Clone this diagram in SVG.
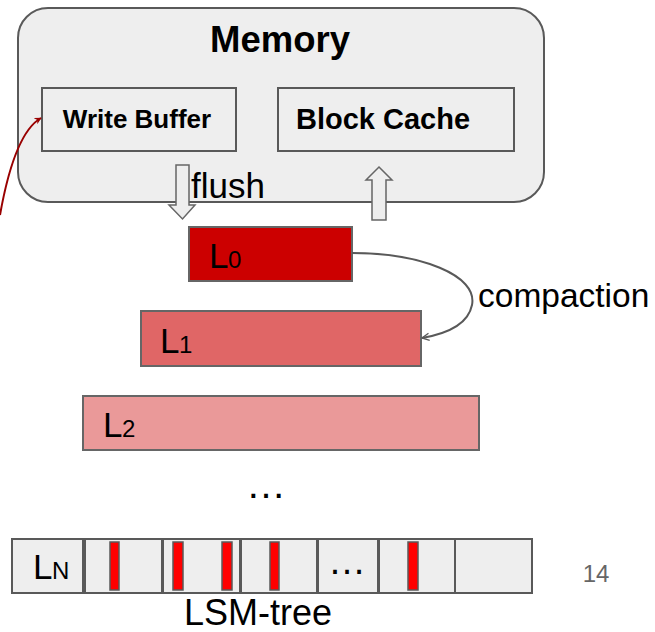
<svg xmlns="http://www.w3.org/2000/svg" width="655" height="632" viewBox="0 0 655 632">
  <style>
    text { font-family: "Liberation Sans", Arial, sans-serif; fill: #000; }
    .box { fill: #eeeeee; stroke: #595959; stroke-width: 2; }
    .lvl { stroke: #666666; stroke-width: 2; }
    .bar { fill: #ff0000; stroke: #595959; stroke-width: 1.5; }
    .hollow { fill: #eeeeee; stroke: #666666; stroke-width: 1.5; }
    .lbl { font-size: 35px; }
    .sub { font-size: 24px; }
  </style>
  <defs>
    <marker id="redHead" viewBox="0 0 10 10" refX="9" refY="5" markerWidth="7" markerHeight="7" orient="auto" markerUnits="userSpaceOnUse">
      <path d="M0,0 L10,5 L0,10 L3,5 z" fill="#990000"/>
    </marker>
    <marker id="greyHead" viewBox="0 0 10 10" refX="9" refY="5" markerWidth="9" markerHeight="9" orient="auto" markerUnits="userSpaceOnUse">
      <path d="M1,1 L9,5 L1,9" fill="none" stroke="#595959" stroke-width="1.5"/>
    </marker>
  </defs>

  <!-- memory area -->
  <g id="memory">
    <rect class="box" x="18" y="8" width="526" height="194" rx="30" ry="30"/>
    <text x="280" y="52" text-anchor="middle" font-size="36.5" font-weight="bold">Memory</text>
  </g>
  <g id="write-buffer">
    <rect class="box" x="42" y="88" width="194" height="63"/>
    <text x="137" y="128" text-anchor="middle" font-size="26" font-weight="bold">Write Buffer</text>
  </g>
  <g id="block-cache">
    <rect class="box" x="278" y="88" width="236" height="63"/>
    <text x="383" y="129" text-anchor="middle" font-size="29" font-weight="bold">Block Cache</text>
  </g>

  <!-- levels -->
  <g id="level-0">
    <rect class="lvl" x="189" y="227" width="163" height="54" fill="#cc0000"/>
    <text class="lbl" x="209" y="268">L</text><text class="sub" x="228" y="268">0</text>
  </g>
  <g id="level-1">
    <rect class="lvl" x="141" y="311" width="280" height="55" fill="#e06666"/>
    <text class="lbl" x="160" y="353">L</text><text class="sub" x="179" y="353">1</text>
  </g>
  <g id="level-2">
    <rect class="lvl" x="83" y="396" width="396" height="54" fill="#ea9999"/>
    <text class="lbl" x="103" y="437">L</text><text class="sub" x="122" y="437">2</text>
  </g>
  <text x="266" y="498" text-anchor="middle" font-size="40">…</text>

  <!-- last level: files with red markers -->
  <g id="level-n">
    <rect class="box" x="12" y="539" width="71" height="54"/>
    <text class="lbl" x="33" y="579">L</text><text class="sub" x="52" y="579">N</text>
    <rect class="box" x="85" y="539" width="77" height="54"/>
    <rect class="box" x="163" y="539" width="77" height="54"/>
    <rect class="box" x="241" y="539" width="76" height="54"/>
    <rect class="box" x="318" y="539" width="60" height="54"/>
    <rect class="box" x="379" y="539" width="76" height="54"/>
    <rect class="box" x="455" y="539" width="77" height="54"/>
    <rect class="bar" x="110" y="542" width="9" height="48"/>
    <rect class="bar" x="173" y="542" width="10" height="48"/>
    <rect class="bar" x="222" y="542" width="10" height="48"/>
    <rect class="bar" x="270" y="542" width="9" height="48"/>
    <rect class="bar" x="408" y="542" width="10" height="48"/>
    <text x="347" y="574" text-anchor="middle" font-size="38">…</text>
  </g>
  <text x="258" y="625" text-anchor="middle" font-size="36">LSM-tree</text>
  <text x="596" y="582" text-anchor="middle" font-size="24" style="fill:#666666">14</text>

  <!-- connectors -->
  <g id="connectors">
    <polygon class="hollow" points="176,165 189,165 189,205 195,205 182.5,219 169,205 176,205"/>
    <text x="191" y="198" font-size="35">flush</text>
    <polygon class="hollow" points="379,167 392,180 386,180 386,220 372,220 372,180 366,180"/>
    <path d="M352,253 C420,253 478,275 472,305 C468,325 445,334 422,338" fill="none" stroke="#595959" stroke-width="2" marker-end="url(#greyHead)"/>
    <text x="478" y="307" font-size="33.5">compaction</text>
    <path d="M0,215 C8,170 20,130 41,118" fill="none" stroke="#990000" stroke-width="2" marker-end="url(#redHead)"/>
  </g>
</svg>
